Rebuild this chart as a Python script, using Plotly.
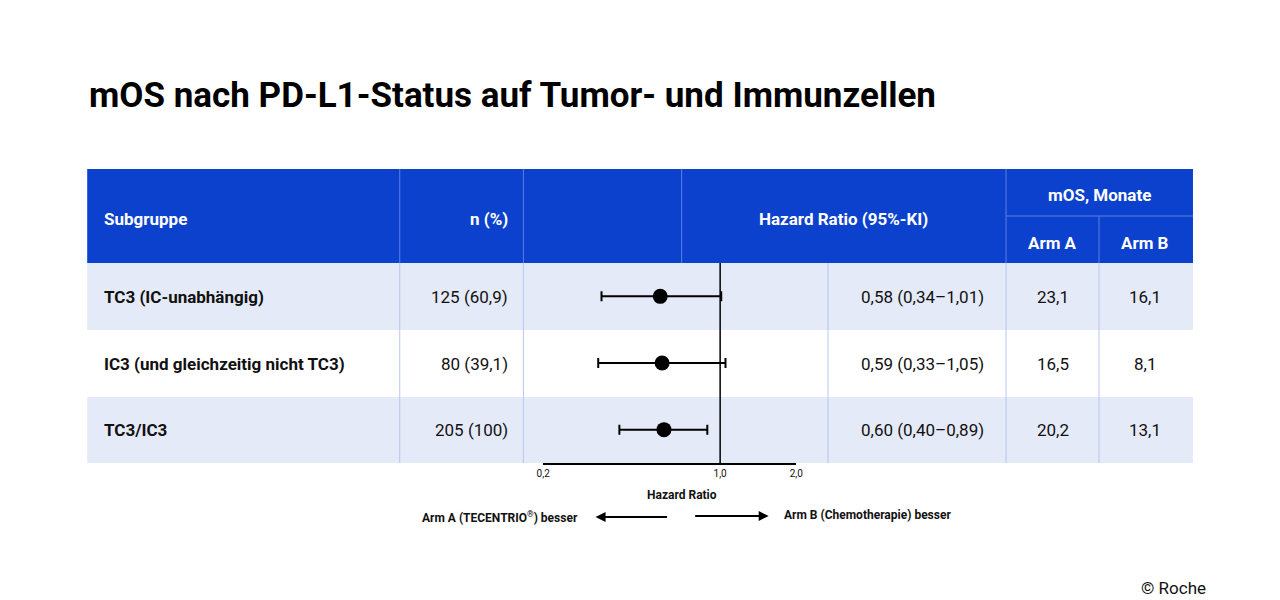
import math
import plotly.graph_objects as go

# data
subgroups = ["TC3 (IC-unabhängig)", "IC3 (und gleichzeitig nicht TC3)", "TC3/IC3"]
n_pct = ["125 (60,9)", "80 (39,1)", "205 (100)"]
hr = [0.58, 0.59, 0.60]
ci_low = [0.34, 0.33, 0.40]
ci_high = [1.01, 1.05, 0.89]
arm_a = ["23,1", "16,5", "20,2"]
arm_b = ["16,1", "8,1", "13,1"]
tick_vals = [0.2, 1.0, 2.0]
tick_text = ["0,2", "1,0", "2,0"]

W, H = 1280, 600
BLUE = "#0B41CD"
LIGHT = "#E5EAF8"
DIV = "#B7C6EF"
FONT = "Roboto"


def px(x):
    return x / W


def py(y):
    return 1 - y / H


def fmt(v):
    return f"{v:.2f}".replace(".", ",")


fig = go.Figure()
rows_y = [2, 1, 0]
fig.add_trace(go.Scatter(
    x=hr, y=rows_y, mode="markers",
    marker=dict(color="black", size=15),
    error_x=dict(type="data", symmetric=False,
                 array=[h - m for h, m in zip(ci_high, hr)],
                 arrayminus=[m - l for m, l in zip(hr, ci_low)],
                 color="black", thickness=2, width=5),
    showlegend=False, hoverinfo="skip"))

shapes = []
ann = []

# header
shapes.append(dict(type="rect", xref="paper", yref="paper", x0=px(73), x1=px(1191),
                   y0=py(255), y1=py(161), fillcolor=BLUE, line_width=0, layer="below"))
row_top = [255, 322, 389]
row_bot = [322, 389, 455]
for i in range(3):
    if i != 1:
        shapes.append(dict(type="rect", xref="paper", yref="paper", x0=px(73), x1=px(1191),
                           y0=py(row_bot[i]), y1=py(row_top[i]), fillcolor=LIGHT,
                           line_width=0, layer="below"))
# header dividers
for x in [389, 514, 674, 1002]:
    shapes.append(dict(type="line", xref="paper", yref="paper", x0=px(x), x1=px(x),
                       y0=py(161), y1=py(255), line=dict(color="#5C7FE0", width=1), layer="below"))
shapes.append(dict(type="line", xref="paper", yref="paper", x0=px(1096), x1=px(1096),
                   y0=py(208), y1=py(255), line=dict(color="#5C7FE0", width=1), layer="below"))
shapes.append(dict(type="line", xref="paper", yref="paper", x0=px(1002), x1=px(1191),
                   y0=py(208), y1=py(208), line=dict(color="#5C7FE0", width=1), layer="below"))
# body dividers
for x in [389, 514, 822, 1002, 1096]:
    shapes.append(dict(type="line", xref="paper", yref="paper", x0=px(x), x1=px(x),
                       y0=py(255), y1=py(455), line=dict(color=DIV, width=1), layer="below"))
# HR = 1 line
shapes.append(dict(type="line", xref="x", yref="y domain", x0=1, x1=1, y0=0, y1=1,
                   line=dict(color="black", width=1.5)))

hdr = dict(color="white", size=17, family=FONT)
ann += [
    dict(x=px(88), y=py(211), text="<b>Subgruppe</b>", xanchor="left", font=hdr),
    dict(x=px(500), y=py(211), text="<b>n (%)</b>", xanchor="right", font=hdr),
    dict(x=px(838), y=py(211), text="<b>Hazard Ratio (95%-KI)</b>", xanchor="center", font=hdr),
    dict(x=px(1096), y=py(187), text="<b>mOS, Monate</b>", xanchor="center", font=hdr),
    dict(x=px(1049), y=py(235), text="<b>Arm A</b>", xanchor="center", font=hdr),
    dict(x=px(1143), y=py(235), text="<b>Arm B</b>", xanchor="center", font=hdr),
]
body = dict(color="#111111", size=17, family=FONT)
for i in range(3):
    yc = py((row_top[i] + row_bot[i]) / 2)
    ann += [
        dict(x=px(88), y=yc, text=f"<b>{subgroups[i]}</b>", xanchor="left", font=body),
        dict(x=px(500), y=yc, text=n_pct[i], xanchor="right", font=body),
        dict(x=px(982), y=yc, text=f"{fmt(hr[i])} ({fmt(ci_low[i])}–{fmt(ci_high[i])})",
             xanchor="right", font=body),
        dict(x=px(1049), y=yc, text=arm_a[i], xanchor="center", font=body),
        dict(x=px(1143), y=yc, text=arm_b[i], xanchor="center", font=body),
    ]

small = dict(color="#111111", size=12, family=FONT)
ann += [
    dict(x=px(674), y=py(487), text="<b>Hazard Ratio</b>", xanchor="center", font=small),
    dict(x=px(571), y=py(509), text="<b>Arm A (TECENTRIO<sup>®</sup>) besser</b>", xanchor="right", font=small),
    dict(x=px(775), y=py(507), text="<b>Arm B (Chemotherapie) besser</b>", xanchor="left", font=small),
    dict(x=px(587), y=py(509), ax=73, ay=0,
         text="", showarrow=True, arrowhead=2, arrowsize=1, arrowwidth=2, arrowcolor="black"),
    dict(x=px(762), y=py(508), ax=-75, ay=0,
         text="", showarrow=True, arrowhead=2, arrowsize=1, arrowwidth=2, arrowcolor="black"),
    dict(x=px(73), y=py(87), text="<b>mOS nach PD-L1-Status auf Tumor- und Immunzellen</b>",
         xanchor="left", font=dict(color="black", size=35, family=FONT)),
    dict(x=px(1206), y=py(580), text="© Roche", xanchor="right",
         font=dict(color="#111111", size=17, family=FONT)),
]
for a in ann:
    a.setdefault("xref", "paper")
    a.setdefault("yref", "paper")
    a.setdefault("showarrow", False)
    a.setdefault("yanchor", "middle")

fig.update_layout(
    width=W, height=H, margin=dict(l=0, r=0, t=0, b=0),
    paper_bgcolor="white", plot_bgcolor="rgba(0,0,0,0)",
    shapes=shapes, annotations=ann,
    xaxis=dict(domain=[px(534), px(790)], type="log",
               range=[math.log10(0.2), math.log10(2.0)],
               tickvals=tick_vals, ticktext=tick_text, showgrid=False, zeroline=False,
               showline=True, linecolor="black", linewidth=1.5, ticks="",
               tickfont=dict(size=10, family=FONT, color="#111111"), fixedrange=True),
    yaxis=dict(domain=[py(455), py(255)], range=[-0.5, 2.5], visible=False, fixedrange=True),
)
fig.write_html("out.html")
